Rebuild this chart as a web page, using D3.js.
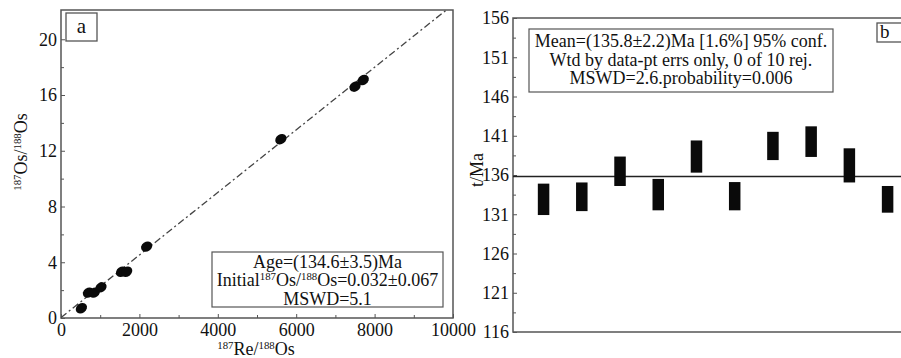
<!DOCTYPE html>
<html>
<head>
<meta charset="utf-8">
<script src="https://cdn.jsdelivr.net/npm/d3@7"></script>
<style>
body { margin: 0; background: #fff; }
text { font-family: "Liberation Serif", "Times New Roman", serif; fill: #111; }
</style>
</head>
<body>
<div id="chart"></div>
<script>
// panel a - Re-Os isochron
const reOs = [520, 700, 850, 1020, 1545, 1675, 2185, 5610, 7500, 7710];
const osOs = [0.70, 1.82, 1.82, 2.20, 3.32, 3.32, 5.12, 12.83, 16.6, 17.08];
const isoIntercept = 0.032;
const isoSlope = 0.002245;
const xTicksA = [0, 2000, 4000, 6000, 8000, 10000];
const yTicksA = [0, 4, 8, 12, 16, 20];
const statsA = [
    [{t: "Age=(134.6±3.5)Ma"}],
    [{t: "Initial"}, {t: "187", sup: true}, {t: "Os/"}, {t: "188", sup: true}, {t: "Os=0.032±0.067"}],
    [{t: "MSWD=5.1"}]
];

// panel b - weighted mean of model ages
const samples = [1, 2, 3, 4, 5, 6, 7, 8, 9, 10];
const ageHi = [134.9, 135.05, 138.35, 135.5, 140.4, 135.1, 141.5, 142.2, 139.4, 134.6];
const ageLo = [130.9, 131.4, 134.6, 131.5, 136.3, 131.5, 137.9, 138.3, 135.05, 131.2];
const meanAge = 135.8;
const yTicksB = [116, 121, 126, 131, 136, 141, 146, 151, 156];
const statsB = [
    "Mean=(135.8±2.2)Ma [1.6%] 95% conf.",
    "Wtd by data-pt errs only, 0 of 10 rej.",
    "MSWD=2.6.probability=0.006"
];

const svg = d3.select("#chart")
    .append("svg")
    .attr("width", 901)
    .attr("height", 358);

const frameColor = "#555";

// write text with superscript pieces
function richText(sel, parts, size) {
    const rise = size * 0.32;
    parts.forEach((p, i) => {
        const ts = sel.append("tspan").text(p.t);
        if (p.sup) {
            ts.attr("font-size", size * 0.6).attr("dy", -rise);
        } else {
            ts.attr("font-size", size);
            if (i > 0 && parts[i - 1].sup) ts.attr("dy", rise);
        }
    });
}

// ---------- panel a ----------
const xA = d3.scaleLinear().domain([0, 10000]).range([61, 453]);
const yA = d3.scaleLinear().domain([0, 22.1]).range([318, 10]);

const gA = svg.append("g");

gA.append("clipPath").attr("id", "clipA")
    .append("rect")
    .attr("x", xA(0)).attr("y", yA(22.1))
    .attr("width", xA(10000) - xA(0))
    .attr("height", yA(0) - yA(22.1));

gA.append("g")
    .attr("transform", `translate(0,${yA(0)})`)
    .call(d3.axisBottom(xA).tickValues(d3.range(1000, 10000, 2000)).tickSize(-3).tickFormat(""))
    .call(g => g.select(".domain").remove());

gA.append("g")
    .attr("transform", `translate(0,${yA(0)})`)
    .call(d3.axisBottom(xA).tickValues(xTicksA).tickSize(-4).tickPadding(5).tickFormat(d3.format("d")))
    .call(g => g.select(".domain").remove())
    .call(g => g.selectAll("text").attr("font-size", 18).attr("font-family", null));

gA.append("g")
    .attr("transform", `translate(${xA(0)},0)`)
    .call(d3.axisLeft(yA).tickValues(d3.range(2, 22, 4)).tickSize(-3).tickFormat(""))
    .call(g => g.select(".domain").remove());

gA.append("g")
    .attr("transform", `translate(${xA(0)},0)`)
    .call(d3.axisLeft(yA).tickValues(yTicksA).tickSize(-4).tickPadding(4))
    .call(g => g.select(".domain").remove())
    .call(g => g.selectAll("text").attr("font-size", 18).attr("font-family", null));

gA.selectAll(".tick line").attr("stroke", frameColor);

gA.append("rect")
    .attr("x", xA(0)).attr("y", yA(22.1))
    .attr("width", xA(10000) - xA(0))
    .attr("height", yA(0) - yA(22.1))
    .attr("fill", "none")
    .attr("stroke", frameColor)
    .attr("stroke-width", 1.5);

// isochron line
gA.append("path")
    .datum([0, 10000])
    .attr("clip-path", "url(#clipA)")
    .attr("fill", "none")
    .attr("stroke", "#444")
    .attr("stroke-width", 1.3)
    .attr("stroke-dasharray", "7,3,2,3")
    .attr("d", d3.line()
        .x(d => xA(d))
        .y(d => yA(isoIntercept + isoSlope * d)));

// data ellipses
gA.selectAll("ellipse")
    .data(reOs)
    .enter()
    .append("ellipse")
    .attr("transform", (d, i) => `translate(${xA(d)},${yA(osOs[i])}) rotate(-35)`)
    .attr("rx", 6)
    .attr("ry", 4.8)
    .attr("fill", "#0a0a0a");

// label box a
gA.append("rect")
    .attr("x", 66).attr("y", 13).attr("width", 31).attr("height", 28)
    .attr("fill", "#fff").attr("stroke", frameColor).attr("stroke-width", 1.3);
gA.append("text")
    .attr("x", 81.5).attr("y", 33)
    .attr("text-anchor", "middle")
    .attr("font-size", 21)
    .text("a");

// stats box
gA.append("rect")
    .attr("x", 212).attr("y", 252).attr("width", 231).attr("height", 55)
    .attr("fill", "#fff").attr("stroke", frameColor).attr("stroke-width", 1.2);
statsA.forEach((parts, i) => {
    const t = gA.append("text")
        .attr("x", 327.5)
        .attr("y", 267.5 + i * 18.7)
        .attr("text-anchor", "middle");
    richText(t, parts, 18);
});

// axis titles
const xTitleA = gA.append("text")
    .attr("x", 256).attr("y", 355)
    .attr("text-anchor", "middle");
richText(xTitleA, [{t: "187", sup: true}, {t: "Re/"}, {t: "188", sup: true}, {t: "Os"}], 18);

const yTitleA = gA.append("text")
    .attr("transform", "translate(27,152) rotate(-90)")
    .attr("text-anchor", "middle");
richText(yTitleA, [{t: "187", sup: true}, {t: "Os/"}, {t: "188", sup: true}, {t: "Os"}], 18);

// ---------- panel b ----------
const xB = d3.scaleLinear().domain([0.2, 10.9]).range([513, 922]);
const yB = d3.scaleLinear().domain([116, 156]).range([332, 18]);

const gB = svg.append("g");

gB.append("g")
    .attr("transform", `translate(${xB(0.2)},0)`)
    .call(d3.axisLeft(yB).tickValues(d3.range(118.5, 156, 5)).tickSize(-3).tickFormat(""))
    .call(g => g.select(".domain").remove());

gB.append("g")
    .attr("transform", `translate(${xB(0.2)},0)`)
    .call(d3.axisLeft(yB).tickValues(yTicksB).tickSize(-4).tickPadding(4))
    .call(g => g.select(".domain").remove())
    .call(g => g.selectAll("text").attr("font-size", 18).attr("font-family", null));

gB.selectAll(".tick line").attr("stroke", frameColor);

gB.append("path")
    .attr("d", `M${xB(10.9)},${yB(156)}H${xB(0.2)}V${yB(116)}H${xB(10.9)}`)
    .attr("fill", "none")
    .attr("stroke", frameColor)
    .attr("stroke-width", 1.5);

// mean line
gB.append("line")
    .attr("x1", xB(0.2)).attr("x2", xB(10.9))
    .attr("y1", yB(meanAge)).attr("y2", yB(meanAge))
    .attr("stroke", "#222")
    .attr("stroke-width", 1.5);

// error bars
const barW = 11.5;
gB.selectAll("rect.bar")
    .data(samples)
    .enter()
    .append("rect")
    .attr("class", "bar")
    .attr("x", d => xB(d) - barW / 2)
    .attr("y", (d, i) => yB(ageHi[i]))
    .attr("width", barW)
    .attr("height", (d, i) => yB(ageLo[i]) - yB(ageHi[i]))
    .attr("fill", "#0a0a0a");

// stats box
gB.append("rect")
    .attr("x", 529).attr("y", 29).attr("width", 304).attr("height", 63)
    .attr("fill", "#fff").attr("stroke", frameColor).attr("stroke-width", 1.2);
gB.selectAll("text.stat")
    .data(statsB)
    .enter()
    .append("text")
    .attr("class", "stat")
    .attr("x", 681)
    .attr("y", (d, i) => 47 + i * 18.5)
    .attr("text-anchor", "middle")
    .attr("font-size", 18)
    .text(d => d);

// label box b
gB.append("rect")
    .attr("x", 877).attr("y", 23).attr("width", 30).attr("height", 19)
    .attr("fill", "#fff").attr("stroke", frameColor).attr("stroke-width", 1.3);
gB.append("text")
    .attr("x", 880).attr("y", 38)
    .attr("font-size", 19)
    .text("b");

gB.append("text")
    .attr("transform", "translate(483,170) rotate(-90)")
    .attr("text-anchor", "middle")
    .attr("font-size", 18)
    .text("t/Ma");
</script>
</body>
</html>
